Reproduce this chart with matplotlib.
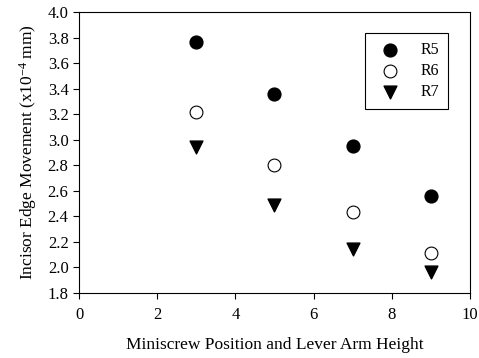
import matplotlib
matplotlib.use("Agg")
import matplotlib.pyplot as plt

plt.rcParams['font.family'] = ['Liberation Serif', 'DejaVu Serif']
plt.rcParams['mathtext.fontset'] = 'custom'
plt.rcParams['mathtext.rm'] = 'Liberation Serif'
plt.rcParams['mathtext.it'] = 'Liberation Serif:italic'

# positions and series values
x = [3, 5, 7, 9]
r5 = [3.77, 3.36, 2.95, 2.56]
r6 = [3.22, 2.80, 2.43, 2.11]
r7 = [2.94, 2.49, 2.14, 1.96]

fig = plt.figure(figsize=(4.79, 3.58), dpi=100)
ax = fig.add_axes([0.165, 0.182, 0.816, 0.784])

ax.scatter(x, r5, s=85, marker='o', color='black', label='R5', zorder=3)
ax.scatter(x, r6, s=85, marker='o', facecolor='white', edgecolor='black', linewidth=0.8, label='R6', zorder=3)
ax.scatter(x, r7, s=85, marker='v', color='black', label='R7', zorder=3)

ax.set_xlim(0, 10)
ax.set_ylim(1.8, 4.0)
ax.set_xticks([0, 2, 4, 6, 8, 10])
ax.set_yticks([1.8, 2.0, 2.2, 2.4, 2.6, 2.8, 3.0, 3.2, 3.4, 3.6, 3.8, 4.0])
ax.set_yticklabels(['%.1f' % v for v in ax.get_yticks()])
ax.tick_params(direction='out', labelsize=12, length=4, width=0.8)
ax.tick_params(axis='x', pad=6)
for sp in ax.spines.values():
    sp.set_linewidth(0.8)

ax.set_xlabel('Miniscrew Position and Lever Arm Height', fontsize=12.5, labelpad=10)
ax.set_ylabel('Incisor Edge Movement (x10$^{-4}$ mm)', fontsize=12.5, labelpad=6)

leg = ax.legend(loc='upper right', bbox_to_anchor=(0.944, 0.926), fontsize=11.5, frameon=True,
                fancybox=False, edgecolor='black', framealpha=1, handlelength=2.0,
                handletextpad=0.9, borderpad=0.55, labelspacing=0.32, borderaxespad=0)
leg.get_frame().set_linewidth(0.8)

fig.savefig('out.png', dpi=100)
